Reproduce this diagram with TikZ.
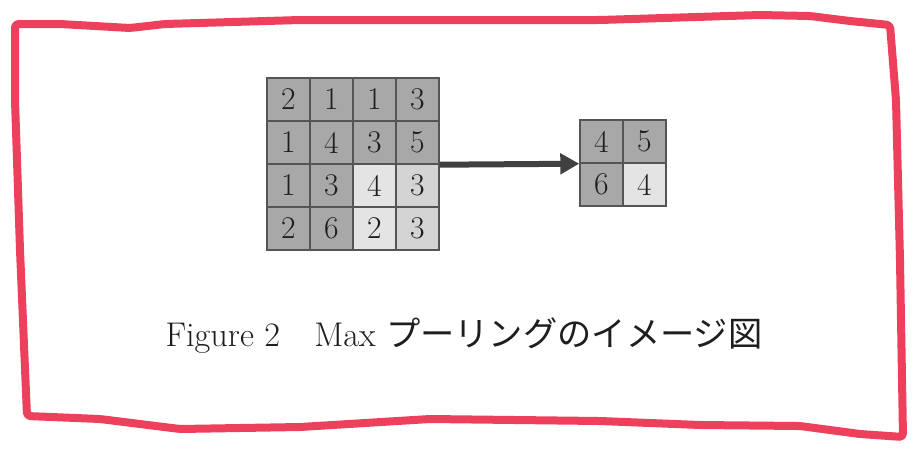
\documentclass[tikz,border=0pt]{standalone}
\usepackage{fontspec}
\newfontfamily\jpfont{Noto Sans CJK JP}
\usetikzlibrary{arrows.meta,positioning}

\definecolor{framered}{RGB}{236,64,92}
\definecolor{cellgray}{RGB}{168,168,168}
\definecolor{cellpale}{RGB}{212,212,212}
\definecolor{cellwhite}{RGB}{228,228,228}
\definecolor{gridline}{RGB}{85,85,85}
\definecolor{arrowgray}{RGB}{64,64,64}
\definecolor{ink}{RGB}{30,30,30}

\begin{document}
\begin{tikzpicture}[thick,node distance=0.86cm,
    cell/.style={draw=gridline,line width=0.8pt,fill=cellgray,minimum size=0.86cm,
      inner sep=0pt,text=ink,font=\fontsize{18}{20}\selectfont},
    pale/.style={fill=cellpale},
    palest/.style={fill=cellwhite}]
    \useasboundingbox (0,0) rectangle (18.46,-9.08);

    % input map
    \node[cell] (b11) at (5.77,-1.99) {2};
    \node[cell] (b12) [right of=b11] {1};
    \node[cell] (b13) [right of=b12] {1};
    \node[cell] (b14) [right of=b13] {3};
    \node[cell] (b21) [below of=b11] {1};
    \node[cell] (b22) [right of=b21] {4};
    \node[cell] (b23) [right of=b22] {3};
    \node[cell] (b24) [right of=b23] {5};
    \node[cell] (b31) [below of=b21] {1};
    \node[cell] (b32) [right of=b31] {3};
    \node[cell,palest] (b33) [right of=b32] {4};
    \node[cell,pale] (b34) [right of=b33] {3};
    \node[cell] (b41) [below of=b31] {2};
    \node[cell] (b42) [right of=b41] {6};
    \node[cell,palest] (b43) [right of=b42] {2};
    \node[cell,pale] (b44) [right of=b43] {3};

    % pooled map
    \node[cell] (s11) at (12.03,-2.83) {4};
    \node[cell] (s12) [right of=s11] {5};
    \node[cell] (s21) [below of=s11] {6};
    \node[cell,palest] (s22) [right of=s21] {4};

    \draw[-{Triangle[length=0.38cm,width=0.4cm]},line width=0.12cm,draw=arrowgray,fill=arrowgray]
      (b24.south east) -- (s11.south west);

    \node[text=ink,font=\fontsize{19.5}{22}\selectfont] (caption) at (9.28,-6.72)
      {Figure 2\quad Max {\jpfont プーリングのイメージ図}};

    % hand drawn frame
    \draw[framered,line width=0.16cm,rounded corners=2pt,line join=round]
      (0.30,-0.48) -- (1.20,-0.48) -- (2.60,-0.56) -- (3.30,-0.48) -- (6.00,-0.40)
      -- (12.00,-0.40) -- (15.20,-0.30) -- (16.20,-0.32) -- (17.00,-0.42) -- (17.80,-0.50)
      -- (17.92,-2.00) -- (18.00,-5.20) -- (18.06,-8.74)
      -- (17.20,-8.68) -- (16.00,-8.52) -- (14.00,-8.50) -- (12.00,-8.42) -- (8.60,-8.38)
      -- (6.00,-8.54) -- (3.60,-8.58) -- (2.00,-8.38) -- (0.54,-8.32)
      -- (0.40,-5.00) -- (0.30,-2.00) -- cycle;
\end{tikzpicture}
\end{document}
